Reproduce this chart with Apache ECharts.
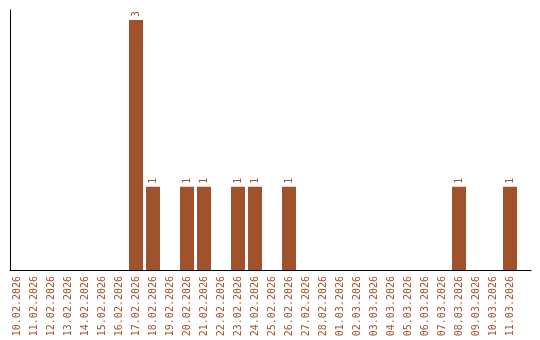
<!DOCTYPE html>
<html><head><meta charset="utf-8">
<script src="https://cdn.jsdelivr.net/npm/echarts@6/dist/echarts.min.js"></script>
<style>html,body{margin:0;padding:0;background:#fff}#c{width:540px;height:340px}</style>
</head><body><div id="c"></div>
<script>
const categories = ["10.02.2026","11.02.2026","12.02.2026","13.02.2026","14.02.2026","15.02.2026","16.02.2026","17.02.2026","18.02.2026","19.02.2026","20.02.2026","21.02.2026","22.02.2026","23.02.2026","24.02.2026","25.02.2026","26.02.2026","27.02.2026","28.02.2026","01.03.2026","02.03.2026","03.03.2026","04.03.2026","05.03.2026","06.03.2026","07.03.2026","08.03.2026","09.03.2026","10.03.2026","11.03.2026"];
const counts = [0,0,0,0,0,0,0,3,1,0,1,1,0,1,1,0,1,0,0,0,0,0,0,0,0,0,1,0,0,1];
const brown = '#a0522d';
const idx = categories.map((_, i) => i);
const chart = echarts.init(document.getElementById('c'), null, {renderer:'canvas'});
chart.setOption({
  animation:false,
  grid:{left:10,right:9,top:10,bottom:70,containLabel:false},
  xAxis:{type:'value',min:-7/17,max:521/17 - 7/17,
    axisLine:{show:true,onZero:false,lineStyle:{color:'#000',width:1}},
    axisTick:{show:false},splitLine:{show:false},
    axisLabel:{customValues:idx,formatter:v=>categories[Math.round(v)],
      rotate:90,color:brown,fontFamily:'DejaVu Sans Mono',fontSize:10,margin:6}},
  yAxis:{type:'value',min:0,max:3.12,
    axisLine:{show:true,onZero:false,lineStyle:{color:'#000',width:1}},
    axisTick:{show:false},axisLabel:{show:false},splitLine:{show:false}},
  series:[{type:'bar',data:counts.map((v,i)=>v===0?null:[i,v]).filter(d=>d),barWidth:14,
    itemStyle:{color:brown},
    label:{show:true,position:'top',rotate:90,align:'left',verticalAlign:'middle',distance:3,
      color:brown,fontFamily:'DejaVu Sans Mono',fontSize:10,formatter:p=>p.value[1]}}]
});
</script></body></html>
